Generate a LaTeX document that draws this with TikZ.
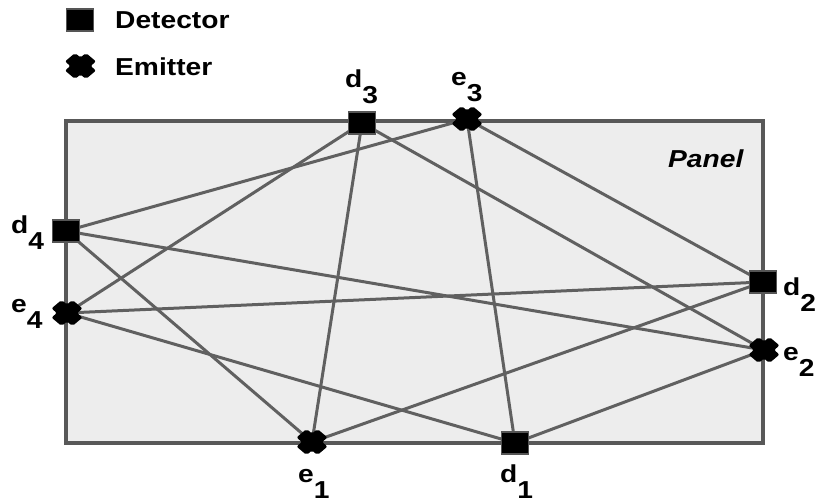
\documentclass[tikz,border=0pt]{standalone}
\usepackage{fontspec}
\setmainfont{Liberation Sans}
\usepackage{graphicx}
\definecolor{panelborder}{RGB}{88,88,88}
\definecolor{panelfill}{RGB}{237,237,237}
\definecolor{raycol}{RGB}{96,96,96}
\definecolor{detborder}{RGB}{85,85,85}
\newcommand\stretchtxt[1]{\scalebox{1.15}[1]{#1}}
\newcommand\lab[2]{\stretchtxt{#1\raisebox{-16pt}{#2}}}
\tikzset{
  x=1pt, y=-1pt,
  panelbox/.style={draw=panelborder, line width=4pt, fill=panelfill},
  ray/.style={draw=raycol, line width=3pt},
  detector/.style={rectangle, draw=detborder, line width=1.2pt, fill=black, minimum width=27pt, minimum height=22pt, inner sep=0pt},
  txt/.style={font=\fontsize{24.5}{28}\selectfont\bfseries, inner sep=0pt, anchor=base west},
  emitterfill/.style={fill=black, rounded corners=2pt}
}
\newcommand\emitterat[1]{%
  \fill[emitterfill, shift={(#1)}] (0,8.45) -- (5.43,13) -- (15.5,4.55) -- (10.08,0) -- (15.5,-4.55) -- (5.43,-13) -- (0,-8.45) -- (-5.43,-13) -- (-15.5,-4.55) -- (-10.08,0) -- (-15.5,4.55) -- (-5.43,13) -- cycle;}
\begin{document}
\begin{tikzpicture}
\useasboundingbox (0,0) rectangle (817,503);
% panel
\draw[panelbox] (66,121) rectangle (763,443);
\node[txt, font=\fontsize{24.5}{28}\selectfont\bfseries\itshape] (paneltxt) at (668,167) {\stretchtxt{Panel}};
% positions
\coordinate (d1) at (515,443);
\coordinate (d2) at (763,282);
\coordinate (d3) at (362,123);
\coordinate (d4) at (66,231);
\coordinate (e1) at (312,442);
\coordinate (e2) at (764,350);
\coordinate (e3) at (467,119);
\coordinate (e4) at (67,313);
% rays
\draw[ray] (d3) -- (e4);
\draw[ray] (d3) -- (e1);
\draw[ray] (d3) -- (e2);
\draw[ray] (e3) -- (d4);
\draw[ray] (e3) -- (d1);
\draw[ray] (e3) -- (d2);
\draw[ray] (d4) -- (e1);
\draw[ray] (d4) -- (e2);
\draw[ray] (e4) -- (d2);
\draw[ray] (e4) -- (d1);
\draw[ray] (e1) -- (d2);
\draw[ray] (d1) -- (e2);
% markers
\node[detector] (md1) at (d1) {};
\node[detector] (md2) at (d2) {};
\node[detector] (md3) at (d3) {};
\node[detector] (md4) at (d4) {};
\emitterat{e1}
\emitterat{e2}
\emitterat{e3}
\emitterat{e4}
% labels
\node[txt] (ld3) at (345,88) {\lab{d}{3}};
\node[txt] (le3) at (451,85) {\lab{e}{3}};
\node[txt] (ld4) at (11,233) {\lab{d}{4}};
\node[txt] (le4) at (11,312) {\lab{e}{4}};
\node[txt] (ld2) at (783,295) {\lab{d}{2}};
\node[txt] (le2) at (783,360) {\lab{e}{2}};
\node[txt] (le1) at (298,482) {\lab{e}{1}};
\node[txt] (ld1) at (500,482) {\lab{d}{1}};
% legend
\coordinate (legd) at (80,20);
\coordinate (lege) at (80.5,66);
\node[detector] (legdet) at (legd) {};
\emitterat{lege}
\node[txt] (legdtxt) at (115,29) {\stretchtxt{Detector}};
\node[txt] (legetxt) at (115,76) {\stretchtxt{Emitter}};
\end{tikzpicture}
\end{document}
